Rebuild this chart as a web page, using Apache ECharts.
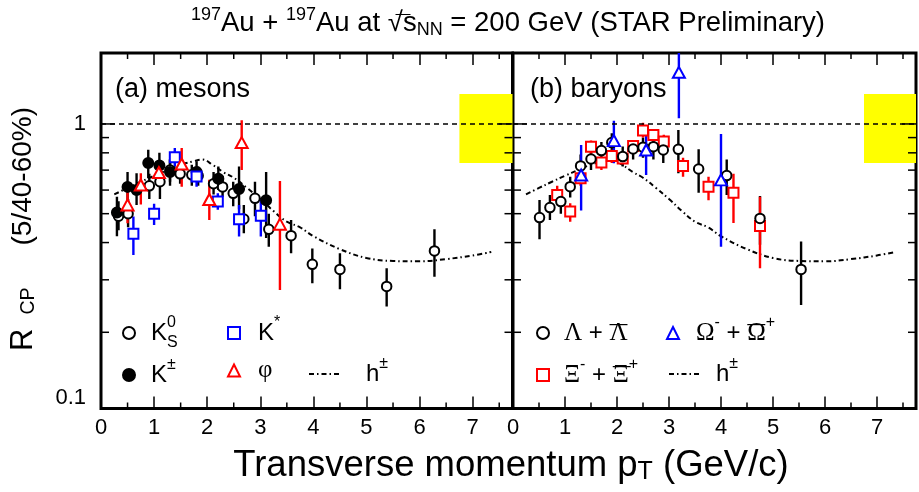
<!DOCTYPE html>
<html>
<head>
<meta charset="utf-8">
<title>RCP mesons / baryons</title>
<script src="https://cdn.jsdelivr.net/npm/echarts@6/dist/echarts.min.js"></script>
<style>
  html, body { margin: 0; padding: 0; background: #fff; }
  #chart { width: 919px; height: 492px; }
</style>
</head>
<body>
<div id="chart"></div>
<script>
// axis ranges (log y)
const xMin = 0, xMax = 7.75
const yMin = 0.111, yMax = 1.73
const xMinorTicks = [0.5, 1.5, 2.5, 3.5, 4.5, 5.5, 6.5, 7.5]
const yMinorTicks = [0.2, 0.3, 0.4, 0.5, 0.6, 0.7, 0.8, 0.9]
const yMajorTicks = [1]
const yTickLabels = ['0.1', '1']
const unity = 1
// normalization uncertainty box: [x from, R low, R high]
const normBox = [6.75, 0.74, 1.26]

// rows: [pT, Rcp, low end of error bar, high end of error bar]
// (a) mesons
const k0s = [
  [0.33, 0.49, 0.44, 0.55], [0.51, 0.50, 0.45, 0.56], [0.91, 0.62, 0.56, 0.68],
  [1.11, 0.64, 0.56, 0.74], [1.30, 0.70, 0.64, 0.76], [1.49, 0.68, 0.63, 0.74],
  [1.71, 0.675, 0.62, 0.73], [1.83, 0.67, 0.62, 0.72], [2.12, 0.63, 0.58, 0.69],
  [2.29, 0.615, 0.57, 0.67], [2.49, 0.585, 0.53, 0.64], [2.69, 0.48, 0.43, 0.535],
  [2.90, 0.563, 0.49, 0.64], [3.16, 0.443, 0.387, 0.50], [3.58, 0.422, 0.368, 0.476],
  [3.98, 0.338, 0.292, 0.382], [4.50, 0.325, 0.279, 0.368], [5.38, 0.285, 0.244, 0.328],
  [6.28, 0.375, 0.307, 0.443]
]
const kch = [
  [0.30, 0.505, 0.42, 0.57], [0.50, 0.615, 0.55, 0.69], [0.67, 0.60, 0.535, 0.683],
  [0.89, 0.74, 0.657, 0.82], [1.10, 0.725, 0.65, 0.80], [1.30, 0.69, 0.62, 0.76],
  [1.80, 0.69, 0.64, 0.75], [2.21, 0.655, 0.60, 0.72], [2.60, 0.605, 0.517, 0.72],
  [3.11, 0.555, 0.414, 0.69]
]
const kstar = [
  [0.61, 0.428, 0.363, 0.489], [1.00, 0.50, 0.458, 0.54], [1.39, 0.773, 0.72, 0.83],
  [1.80, 0.666, 0.616, 0.71], [2.20, 0.549, 0.515, 0.585], [2.60, 0.479, 0.419, 0.535],
  [3.01, 0.492, 0.419, 0.56]
]
const phi = [
  [0.50, 0.535, 0.464, 0.632], [0.75, 0.624, 0.537, 0.683], [1.09, 0.687, 0.64, 0.75],
  [1.52, 0.734, 0.616, 0.83], [2.04, 0.558, 0.476, 0.65], [2.65, 0.866, 0.70, 1.03],
  [3.37, 0.461, 0.277, 0.644]
]
// (b) baryons
const lambda = [
  [0.51, 0.485, 0.41, 0.556], [0.71, 0.524, 0.476, 0.578], [0.92, 0.549, 0.50, 0.60],
  [1.10, 0.616, 0.567, 0.665], [1.30, 0.723, 0.66, 0.79], [1.50, 0.763, 0.70, 0.818],
  [1.70, 0.814, 0.76, 0.87], [1.90, 0.866, 0.80, 0.93], [2.11, 0.777, 0.72, 0.84],
  [2.31, 0.824, 0.76, 0.88], [2.50, 0.835, 0.77, 0.90], [2.70, 0.839, 0.76, 0.92],
  [2.89, 0.818, 0.74, 0.90], [3.18, 0.822, 0.683, 0.955], [3.57, 0.706, 0.588, 0.822],
  [4.11, 0.671, 0.578, 0.76], [4.75, 0.482, 0.393, 0.573], [5.54, 0.325, 0.247, 0.403]
]
const xi = [
  [0.85, 0.578, 0.54, 0.62], [1.10, 0.508, 0.47, 0.542], [1.30, 0.657, 0.62, 0.70],
  [1.50, 0.839, 0.79, 0.88], [1.70, 0.742, 0.70, 0.77], [1.90, 0.78, 0.74, 0.82],
  [2.11, 0.766, 0.74, 0.79], [2.31, 0.843, 0.80, 0.88], [2.50, 0.95, 0.90, 1.01],
  [2.70, 0.918, 0.87, 0.96], [2.90, 0.873, 0.83, 0.92], [3.27, 0.723, 0.665, 0.77],
  [3.76, 0.616, 0.555, 0.665], [4.24, 0.588, 0.465, 0.68], [4.75, 0.455, 0.328, 0.57]
]
const omega = [
  [1.31, 0.674, 0.512, 0.85], [1.94, 0.879, 0.738, 1.026], [2.56, 0.818, 0.674, 0.94],
  [3.19, 1.49, 1.045, 1.9], [4.00, 0.649, 0.387, 0.925]
]
// charged hadron reference curve (same in both panels)
const hX = [0.25, 0.5, 0.75, 1.0, 1.25, 1.5, 1.75, 1.9, 2.1, 2.3, 2.5, 2.75, 3.0, 3.25, 3.5, 3.75, 4.0, 4.5, 5.0, 5.5, 6.0, 6.5, 7.0, 7.35]
const hY = [0.58, 0.61, 0.64, 0.67, 0.70, 0.73, 0.75, 0.76, 0.73, 0.69, 0.66, 0.61, 0.56, 0.51, 0.47, 0.45, 0.42, 0.38, 0.355, 0.347, 0.346, 0.352, 0.362, 0.372]

// legend texts (rich); {ov|—} is a zero-width bar drawn over the next letter
const legendLabels = {
  K0S: '{m|K}{stk|0}{sub|S}',
  Kstar: '{m|K}{sup|*}',
  Kch: '{m|K}{sup|±}',
  phi: '{g|φ}',
  hch: '{m|h}{sup|±}',
  Lambda: '{g|Λ}{m| + }{ov|—}{g|Λ}',
  Omega: '{g|Ω}{sup|-}{m| + }{ov|—}{g|Ω}{sup|+}',
  Xi: '{g|Ξ}{sup|-}{m| + }{ov|—}{g|Ξ}{sup|+}'
}

const chart = echarts.init(document.getElementById('chart'))

const richLegend = {
  m: { fontSize: 24, lineHeight: 36, fontFamily: 'Liberation Sans', color: '#000' },
  g: { fontSize: 25, lineHeight: 36, fontFamily: 'Liberation Serif', color: '#000' },
  sup: { fontSize: 16, lineHeight: 22, verticalAlign: 'top', color: '#000' },
  stk: { fontSize: 16, lineHeight: 21, verticalAlign: 'top', width: 0.01, color: '#000' },
  sub: { fontSize: 16, lineHeight: 21, verticalAlign: 'bottom', color: '#000' },
  ov: { fontSize: 18, lineHeight: 5, verticalAlign: 'top', width: 0.01, color: '#000', fontFamily: 'Liberation Sans' }
}

function xAx (gi, pos, labels) {
  return {
    type: 'value', gridIndex: gi, position: pos, min: xMin, max: xMax, interval: 1,
    axisLine: { show: false },
    axisTick: { inside: true, length: 12, lineStyle: { color: '#000', width: 1.5 } },
    splitLine: { show: false },
    axisLabel: {
      show: labels, color: '#000', fontSize: 22, margin: 8,
      formatter: v => Number.isInteger(v) ? String(v) : ''
    }
  }
}

function yAx (gi, labels) {
  return {
    type: 'log', logBase: 10, gridIndex: gi, min: yMin, max: yMax,
    axisLine: { show: false }, axisTick: { show: false }, splitLine: { show: false },
    axisLabel: {
      show: labels, color: '#000', fontSize: 22, margin: 15,
      verticalAlignMinLabel: 'bottom',
      formatter: v => v < 0.15 ? yTickLabels[0] : (Math.abs(v - 1) < 1e-6 ? yTickLabels[1] : '')
    }
  }
}

// small tick marks on all four frame sides
function ticks (gi, values, dir, len) {
  return {
    type: 'custom', name: 'ticks', xAxisIndex: gi * 2, yAxisIndex: gi, silent: true, z: 5,
    data: values.map(v => dir === 'x' ? [v, yMin] : [xMin, v]),
    renderItem (params, api) {
      const v = dir === 'x' ? api.value(0) : api.value(1)
      const st = { stroke: '#000', lineWidth: 1.5 }
      if (dir === 'x') {
        const b = api.coord([v, yMin]), t = api.coord([v, yMax])
        return { type: 'group', children: [
          { type: 'line', shape: { x1: b[0], y1: b[1], x2: b[0], y2: b[1] - len }, style: st },
          { type: 'line', shape: { x1: t[0], y1: t[1], x2: t[0], y2: t[1] + len }, style: st }
        ] }
      }
      const l = api.coord([xMin, v]), r = api.coord([xMax, v])
      return { type: 'group', children: [
        { type: 'line', shape: { x1: l[0], y1: l[1], x2: l[0] + len, y2: l[1] }, style: st },
        { type: 'line', shape: { x1: r[0], y1: r[1], x2: r[0] - len, y2: r[1] }, style: st }
      ] }
    }
  }
}

function errBars (rows, gi, color) {
  return {
    type: 'custom', name: 'err', xAxisIndex: gi * 2, yAxisIndex: gi, silent: true, clip: true, z: 3,
    data: rows.map(r => [r[0], r[2], r[3]]),
    encode: { x: 0, y: [1, 2] },
    renderItem (params, api) {
      const lo = api.coord([api.value(0), api.value(1)])
      const hi = api.coord([api.value(0), api.value(2)])
      return { type: 'line', shape: { x1: lo[0], y1: lo[1], x2: hi[0], y2: hi[1] },
        style: { stroke: color, lineWidth: 2.4 } }
    }
  }
}

function points (name, rows, gi, symbol, size, fill, stroke) {
  return {
    type: 'scatter', name, xAxisIndex: gi * 2, yAxisIndex: gi, z: 4,
    symbol, symbolSize: size,
    itemStyle: { color: fill, borderColor: stroke, borderWidth: 2, opacity: 1 },
    data: rows.map(r => [r[0], r[1]])
  }
}

function hCurve (gi) {
  return {
    type: 'line', name: 'hch', xAxisIndex: gi * 2, yAxisIndex: gi, z: 2,
    symbol: 'none', smooth: 0.4,
    itemStyle: { color: '#000' },
    lineStyle: { color: '#000', width: 2, type: [5, 3, 1.5, 3] },
    data: hX.map((x, i) => [x, hY[i]])
  }
}

function frameMarks (gi) {
  return [
    {
      type: 'line', name: 'norm', xAxisIndex: gi * 2, yAxisIndex: gi, data: [], z: 1,
      markArea: {
        silent: true, itemStyle: { color: '#ffff00', opacity: 1 },
        data: [[{ xAxis: normBox[0], yAxis: normBox[1] }, { xAxis: xMax, yAxis: normBox[2] }]]
      }
    },
    {
      type: 'line', name: 'unity', xAxisIndex: gi * 2, yAxisIndex: gi, data: [], z: 3,
      markLine: {
        silent: true, symbol: ['none', 'none'], label: { show: false },
        lineStyle: { color: '#000', type: [5, 4], width: 1.5 },
        data: [{ yAxis: unity }]
      }
    }
  ]
}

// one legend entry; iconCx = centre of the marker, cy = row centre, textX = where the label starts
const legHalf = 18
function leg (name, iconCx, cy, textX) {
  const w = 12
  return {
    data: [name], left: iconCx - w / 2, top: cy - legHalf, padding: 0, itemWidth: w, itemHeight: 12, itemGap: 0,
    selectedMode: false,
    formatter: n => legendLabels[n],
    textStyle: { fontSize: 24, color: '#000', padding: [0, 0, 0, textX - (iconCx + w / 2) - 5], rich: richLegend }
  }
}
function legLine (x0, x1, cy, textX) {
  return {
    data: ['hch'], left: x0, top: cy - legHalf, padding: 0, itemWidth: x1 - x0, itemHeight: 12, itemGap: 0,
    selectedMode: false,
    itemStyle: { opacity: 0 },
    formatter: n => legendLabels[n],
    textStyle: { fontSize: 24, color: '#000', padding: [0, 0, 0, textX - x1 - 5], rich: richLegend }
  }
}

const frame = { top: 53, width: 411.5, height: 355.5, show: true, borderColor: '#000', borderWidth: 3 }

let option = {
  animation: false,
  backgroundColor: '#fff',
  textStyle: { fontFamily: 'Liberation Sans' },
  grid: [
    Object.assign({ left: 101 }, frame),
    Object.assign({ left: 513 }, frame)
  ],
  xAxis: [xAx(0, 'bottom', true), xAx(0, 'top', false), xAx(1, 'bottom', true), xAx(1, 'top', false)],
  yAxis: [yAx(0, true), yAx(1, false)],
  legend: [
    leg('K0S', 128, 333, 150), leg('Kstar', 233, 333, 257),
    leg('Kch', 128, 375, 150), leg('phi', 233, 376, 257),
    legLine(308, 338, 374, 365),
    leg('Lambda', 542, 333, 563), leg('Omega', 672, 333, 695),
    leg('Xi', 542, 375, 563), legLine(668, 699, 374, 715)
  ],
  graphic: [
    {
      type: 'text', x: 508, y: 23,
      style: {
        text: '{sup|197}Au + {sup|197}Au at √{ov|—}s{sub|NN} = 200 GeV (STAR Preliminary)',
        font: '27.5px "Liberation Sans"', lineHeight: 33, fill: '#000', align: 'center', verticalAlign: 'middle',
        rich: {
          sup: { fontSize: 18, lineHeight: 18, verticalAlign: 'top' },
          sub: { fontSize: 18, lineHeight: 14, verticalAlign: 'bottom' },
          ov: { fontSize: 15, lineHeight: 9, verticalAlign: 'top', width: 0.01 }
        }
      }
    },
    {
      type: 'text', x: 23, y: 229, rotation: Math.PI / 2,
      style: {
        text: '{R|R}{sub|CP}{m|(5/40-60%)}',
        font: '28px "Liberation Sans"', fill: '#000', align: 'center', verticalAlign: 'middle',
        rich: {
          R: { fontSize: 31, lineHeight: 32 },
          sub: { fontSize: 19.5, lineHeight: 20, verticalAlign: 'bottom', padding: [0, 0, 0, 14] },
          m: { fontSize: 28, lineHeight: 32, padding: [0, 0, 0, 42] }
        }
      }
    },
    {
      type: 'text', x: 511, y: 466,
      style: {
        text: 'Transverse momentum p{sub|T} (GeV/c)',
        font: '36.5px "Liberation Sans"', fill: '#000', align: 'center', verticalAlign: 'middle',
        rich: { sub: { fontSize: 25, lineHeight: 24, verticalAlign: 'bottom' } }
      }
    },
    {
      type: 'text', x: 115, y: 90,
      style: { text: '(a) mesons', font: '27px "Liberation Sans"', fill: '#000', align: 'left', verticalAlign: 'middle' }
    },
    {
      type: 'text', x: 530, y: 90,
      style: { text: '(b) baryons', font: '27px "Liberation Sans"', fill: '#000', align: 'left', verticalAlign: 'middle' }
    }
  ],
  series: [
    ...frameMarks(0), ...frameMarks(1),
    ticks(0, xMinorTicks, 'x', 6), ticks(1, xMinorTicks, 'x', 6),
    ticks(0, yMinorTicks, 'y', 8), ticks(1, yMinorTicks, 'y', 8),
    ticks(0, yMajorTicks, 'y', 14), ticks(1, yMajorTicks, 'y', 14),
    hCurve(0), hCurve(1),
    errBars(k0s, 0, '#000'), errBars(kch, 0, '#000'), errBars(kstar, 0, '#0000ff'), errBars(phi, 0, '#ff0000'),
    errBars(lambda, 1, '#000'), errBars(xi, 1, '#ff0000'), errBars(omega, 1, '#0000ff'),
    points('K0S', k0s, 0, 'circle', 9.5, '#fff', '#000'),
    points('Kch', kch, 0, 'circle', 10, '#000', '#000'),
    points('Kstar', kstar, 0, 'rect', 10, '#fff', '#0000ff'),
    points('phi', phi, 0, 'triangle', [12, 11], '#fff', '#ff0000'),
    points('Xi', xi, 1, 'rect', 10, '#fff', '#ff0000'),
    points('Lambda', lambda, 1, 'circle', 9.5, '#fff', '#000'),
    points('Omega', omega, 1, 'triangle', [12, 11], '#fff', '#0000ff')
  ]
}

chart.setOption(option)
</script>
</body>
</html>
